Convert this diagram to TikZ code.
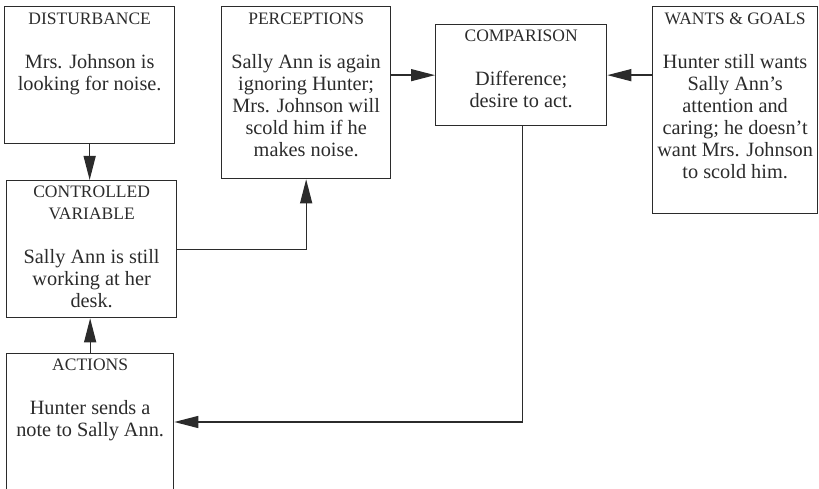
\documentclass[tikz,border=0pt]{standalone}
\usepackage{fontspec}
\setmainfont{Liberation Serif}
\usetikzlibrary{arrows.meta}
\definecolor{ink}{HTML}{2B2B2B}
\tikzset{
  box/.style={draw=ink, line width=1.3pt, rectangle, inner sep=0pt, anchor=north west},
  boxtext/.style={anchor=north, inner sep=0pt, align=center, text=ink,
    font=\fontsize{20.3}{22}\selectfont},
  arr/.style={draw=ink, line width=1.3pt, -{Triangle[length=24pt,width=12pt]}},
  link/.style={draw=ink, line width=1.3pt}
}
\newcommand{\boxtitle}[1]{{\fontsize{17.5}{22}\selectfont #1}}
\begin{document}
\begin{tikzpicture}[x=1pt,y=-1pt]
  \useasboundingbox (0,0) rectangle (819,489);
  \clip (0,0) rectangle (819,489);

  % boxes
  \node[box, minimum width=170pt, minimum height=137pt] (dist) at (4,6) {};
  \node[box, minimum width=170pt, minimum height=137pt] (cv) at (6,180) {};
  \node[box, minimum width=167pt, minimum height=147pt] (act) at (6,353) {};
  \node[box, minimum width=169pt, minimum height=172pt] (perc) at (221,6) {};
  \node[box, minimum width=171pt, minimum height=101pt] (comp) at (435,24) {};
  \node[box, minimum width=165pt, minimum height=207pt] (wants) at (652,6) {};

  % texts
  \node[boxtext] (distT) at ([yshift=-7pt]dist.north)
    {\boxtitle{DISTURBANCE}\\[22pt]Mrs. Johnson is\\looking for noise.};
  \node[boxtext] (cvT) at ([yshift=-6pt]cv.north)
    {\boxtitle{CONTROLLED}\\\boxtitle{VARIABLE}\\[22pt]Sally Ann is still\\working at her\\desk.};
  \node[boxtext] (actT) at ([yshift=-6pt]act.north)
    {\boxtitle{ACTIONS}\\[22pt]Hunter sends a\\note to Sally Ann.};
  \node[boxtext] (percT) at ([yshift=-7pt]perc.north)
    {\boxtitle{PERCEPTIONS}\\[22pt]Sally Ann is again\\ignoring Hunter;\\Mrs. Johnson will\\scold him if he\\makes noise.};
  \node[boxtext] (compT) at ([yshift=-6pt]comp.north)
    {\boxtitle{COMPARISON}\\[22pt]Difference;\\desire to act.};
  \node[boxtext] (wantsT) at ([yshift=-7pt]wants.north)
    {\boxtitle{WANTS \& GOALS}\\[22pt]Hunter still wants\\Sally Ann’s\\attention and\\caring; he doesn’t\\want Mrs. Johnson\\to scold him.};

  % connectors
  \draw[arr] (dist.south) -- (dist.south |- cv.north);
  \draw[arr] (act.north) -- (act.north |- cv.south);
  \draw[arr] (cv.east) -| (perc.south);
  \draw[arr] (perc.east |- comp.west) -- (comp.west);
  \draw[arr] (wants.west |- comp.east) -- (comp.east);
  \coordinate (turn) at ([xshift=1.5pt]comp.south |- 0,422);
  \draw[link] ([xshift=1.5pt]comp.south) -- (turn);
  \draw[arr] (turn) -- (turn -| act.east);
\end{tikzpicture}
\end{document}
